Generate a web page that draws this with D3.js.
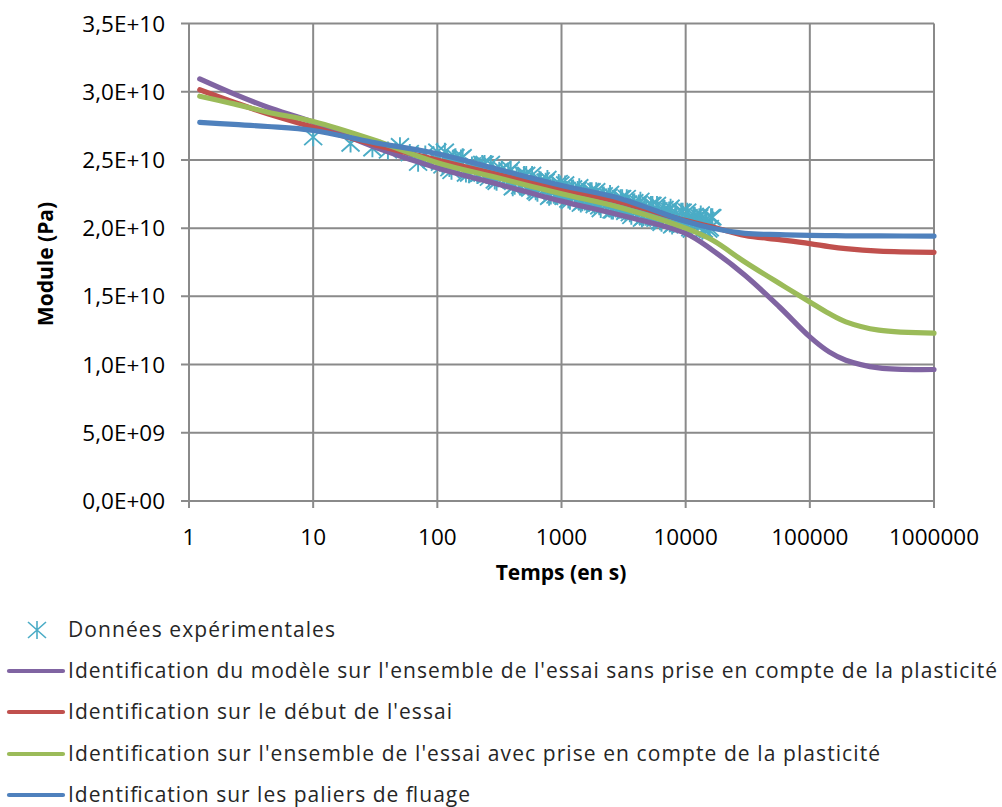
<!DOCTYPE html>
<html>
<head>
<meta charset="utf-8">
<script src="https://cdn.jsdelivr.net/npm/d3@7"></script>
<style>
  body { margin: 0; background: #fff; }
  text { font-family: "Open Sans", sans-serif; fill: #000; }
</style>
</head>
<body>
<div id="chart"></div>
<script>
// module values are in units of 1e10 Pa
const xTicks = [1, 10, 100, 1000, 10000, 100000, 1000000];
const yTicks = [0, 0.5, 1.0, 1.5, 2.0, 2.5, 3.0, 3.5];

// experimental points (temps en s, module)
const expTime = [10, 20, 30, 40, 50, 60, 70, 80, 90,
  100, 110, 120, 130, 140, 150, 160, 180, 200, 220, 240, 260, 280, 300, 330, 360, 390, 420, 450, 480,
  520, 560, 600, 640, 680, 720, 770, 820, 870, 920, 980, 1040, 1100, 1170, 1240, 1310, 1390, 1470,
  1560, 1650, 1750, 1850, 1960, 2070, 2190, 2320, 2460, 2600, 2750, 2910, 3080, 3260, 3450, 3650,
  3860, 4080, 4320, 4570, 4830, 5110, 5400, 5710, 6040, 6390, 6760, 7150, 7560, 8000, 8460, 8950,
  9460, 10000, 10580, 11190, 11830, 12510, 13230, 13990, 14800, 15650, 16400,
  // second pass, in between
  105, 115, 125, 135, 145, 155, 170, 190, 210, 230, 250, 270, 290, 315, 345, 375, 405, 435, 465, 500,
  540, 580, 620, 660, 700, 745, 795, 845, 895, 950, 1010, 1070, 1135, 1205, 1275, 1350, 1430, 1515,
  1605, 1700, 1800, 1905, 2015, 2130, 2255, 2390, 2530, 2675, 2830, 2995, 3170, 3355, 3550, 3755,
  3970, 4200, 4445, 4700, 4970, 5255, 5555, 5875, 6215, 6575, 6955, 7355, 7780, 8230, 8705, 9205,
  9730, 10290, 10885, 11510, 12170, 12870, 13610, 14395, 15225, 16000];
const expModule = [2.667, 2.62, 2.585, 2.57, 2.60, 2.55, 2.48, 2.54, 2.50,
  2.56, 2.46, 2.51, 2.42, 2.52, 2.45, 2.52, 2.40, 2.45, 2.40, 2.47, 2.37, 2.42, 2.34, 2.43, 2.36, 2.43, 2.31, 2.36, 2.32,
  2.39, 2.29, 2.34, 2.26, 2.35, 2.28, 2.36, 2.24, 2.29, 2.25, 2.32, 2.23, 2.28, 2.20, 2.29, 2.23, 2.30, 2.19,
  2.24, 2.19, 2.27, 2.17, 2.23, 2.14, 2.24, 2.17, 2.25, 2.13, 2.19, 2.14, 2.22, 2.12, 2.18, 2.09,
  2.19, 2.12, 2.20, 2.08, 2.14, 2.09, 2.17, 2.07, 2.13, 2.04, 2.14, 2.07, 2.15, 2.03, 2.09, 2.04,
  2.12, 2.02, 2.08, 1.99, 2.09, 2.03, 2.10, 1.99, 2.05, 2.00, 2.08,
  2.48, 2.56, 2.44, 2.51, 2.46, 2.51, 2.40, 2.46, 2.39, 2.47, 2.39, 2.47, 2.35, 2.42, 2.37, 2.41, 2.30, 2.38, 2.31, 2.39,
  2.30, 2.39, 2.27, 2.34, 2.30, 2.34, 2.23, 2.31, 2.24, 2.33, 2.24, 2.32, 2.21, 2.28, 2.24, 2.28, 2.18, 2.25,
  2.19, 2.27, 2.19, 2.27, 2.16, 2.23, 2.19, 2.23, 2.13, 2.20, 2.14, 2.22, 2.14, 2.22, 2.11, 2.18,
  2.14, 2.18, 2.07, 2.15, 2.08, 2.17, 2.08, 2.17, 2.05, 2.13, 2.08, 2.13, 2.02, 2.10, 2.03, 2.12,
  2.03, 2.12, 2.00, 2.08, 2.04, 2.08, 1.98, 2.06, 1.99, 2.08];

// model curves
const modelTime = [1.22, 2.3, 4.3, 10, 30, 100, 300, 1000, 3000, 10000, 16500, 30000, 57000, 100000, 143000, 195000, 360000, 1000000];
const sansPlasticite = [3.094, 2.984, 2.886, 2.777, 2.60, 2.44, 2.325, 2.198, 2.094, 1.962, 1.837, 1.655, 1.422, 1.203, 1.093, 1.032, 0.976, 0.964];
const debutEssai = [3.014, 2.923, 2.838, 2.740, 2.615, 2.50, 2.395, 2.285, 2.19, 2.055, 2.008, 1.947, 1.916, 1.887, 1.865, 1.850, 1.832, 1.823];
const avecPlasticite = [2.967, 2.911, 2.850, 2.782, 2.65, 2.48, 2.371, 2.252, 2.150, 2.00, 1.911, 1.752, 1.594, 1.459, 1.374, 1.313, 1.252, 1.230];
const paliersFluage = [2.775, 2.760, 2.745, 2.716, 2.63, 2.545, 2.434, 2.313, 2.216, 2.05, 1.999, 1.962, 1.952, 1.947, 1.945, 1.944, 1.943, 1.942];

const expLabel = "Données expérimentales";
const seriesLabels = [
  "Identification du modèle sur l'ensemble de l'essai sans prise en compte de la plasticité",
  "Identification sur le début de l'essai",
  "Identification sur l'ensemble de l'essai avec prise en compte de la plasticité",
  "Identification sur les paliers de fluage"
];
const seriesColors = ["#8064A2", "#C0504D", "#9BBB59", "#4F81BD"];
const expColor = "#4BACC6";

const width = 1002, height = 807;
const plot = {left: 189, right: 934, top: 23.5, bottom: 501};

const svg = d3.select("#chart").append("svg")
  .attr("width", width)
  .attr("height", height);

const x = d3.scaleLog().domain([1, 1000000]).range([plot.left, plot.right]);
const y = d3.scaleLinear().domain([0, 3.5]).range([plot.bottom, plot.top]);

const gridColor = "#8a8a8a";

// number format like "3,5E+10"
function sci(v) {
  if (v === 0) return "0,0E+00";
  const s = (v * 1e10).toExponential(1).split("e");
  const exp = parseInt(s[1], 10);
  const e = (exp < 0 ? "-" : "+") + String(Math.abs(exp)).padStart(2, "0");
  return s[0].replace(".", ",") + "E" + e;
}

// grid
svg.append("g").selectAll("line.h")
  .data(yTicks)
  .join("line")
  .attr("x1", plot.left - 8).attr("x2", plot.right)
  .attr("y1", d => y(d)).attr("y2", d => y(d))
  .attr("stroke", gridColor).attr("stroke-width", 2);

svg.append("g").selectAll("line.v")
  .data(xTicks)
  .join("line")
  .attr("x1", d => x(d)).attr("x2", d => x(d))
  .attr("y1", plot.top).attr("y2", plot.bottom + 7)
  .attr("stroke", gridColor).attr("stroke-width", 2);

// tick labels
svg.append("g").selectAll("text")
  .data(yTicks)
  .join("text")
  .attr("x", 165)
  .attr("y", d => y(d) + 8)
  .attr("text-anchor", "end")
  .style("font-size", "22.5px")
  .text(d => sci(d));

svg.append("g").selectAll("text")
  .data(xTicks)
  .join("text")
  .attr("x", d => x(d))
  .attr("y", 545)
  .attr("text-anchor", "middle")
  .style("font-size", "22.5px")
  .text(d => d);

// axis titles
svg.append("text")
  .attr("x", 561).attr("y", 580)
  .attr("text-anchor", "middle")
  .style("font-size", "21px").style("font-weight", "bold")
  .text("Temps (en s)");

svg.append("text")
  .attr("transform", "translate(53,264) rotate(-90)")
  .attr("text-anchor", "middle")
  .style("font-size", "21px").style("font-weight", "bold")
  .text("Module (Pa)");

// star marker: X with a vertical bar
function starPath(cx, cy) {
  const w = 9, h = 8;
  return `M${cx - w},${cy - h}L${cx + w},${cy + h}M${cx - w},${cy + h}L${cx + w},${cy - h}M${cx},${cy - h - 1}L${cx},${cy + h + 1}`;
}

const expData = expTime.map((t, i) => ({t: t, v: expModule[i]}));
svg.append("g").selectAll("path")
  .data(expData)
  .join("path")
  .attr("d", d => starPath(x(d.t), y(d.v)))
  .attr("fill", "none")
  .attr("stroke", expColor)
  .attr("stroke-width", 1.9);

// model curves
const allSeries = [sansPlasticite, debutEssai, avecPlasticite, paliersFluage];
const line = d3.line()
  .x(d => x(d.t))
  .y(d => y(d.v))
  .curve(d3.curveCatmullRom.alpha(0.5));

allSeries.forEach((vals, k) => {
  svg.append("path")
    .datum(modelTime.map((t, i) => ({t: t, v: vals[i]})))
    .attr("d", line)
    .attr("fill", "none")
    .attr("stroke", seriesColors[k])
    .attr("stroke-width", 5.2)
    .attr("stroke-linecap", "round");
});

// legend
const legendRows = [630, 671, 712, 754, 795];
const legendWidths = [267, 929, 384, 812, 402];
const leg = svg.append("g");

leg.append("path")
  .attr("d", starPath(37, legendRows[0]))
  .attr("fill", "none")
  .attr("stroke", expColor)
  .attr("stroke-width", 1.6);

leg.append("text")
  .attr("x", 68).attr("y", legendRows[0] + 7)
  .style("font-size", "21px").style("fill", "#262626")
  .attr("textLength", legendWidths[0])
  .attr("lengthAdjust", "spacing")
  .text(expLabel);

seriesLabels.forEach((lab, k) => {
  const yy = legendRows[k + 1];
  leg.append("line")
    .attr("x1", 9).attr("x2", 63)
    .attr("y1", yy).attr("y2", yy)
    .attr("stroke", seriesColors[k])
    .attr("stroke-width", 4.2)
    .attr("stroke-linecap", "round");
  leg.append("text")
    .attr("x", 68).attr("y", yy + 7)
    .style("font-size", "21px").style("fill", "#262626")
    .attr("textLength", legendWidths[k + 1])
    .attr("lengthAdjust", "spacing")
    .text(lab);
});
</script>
</body>
</html>
